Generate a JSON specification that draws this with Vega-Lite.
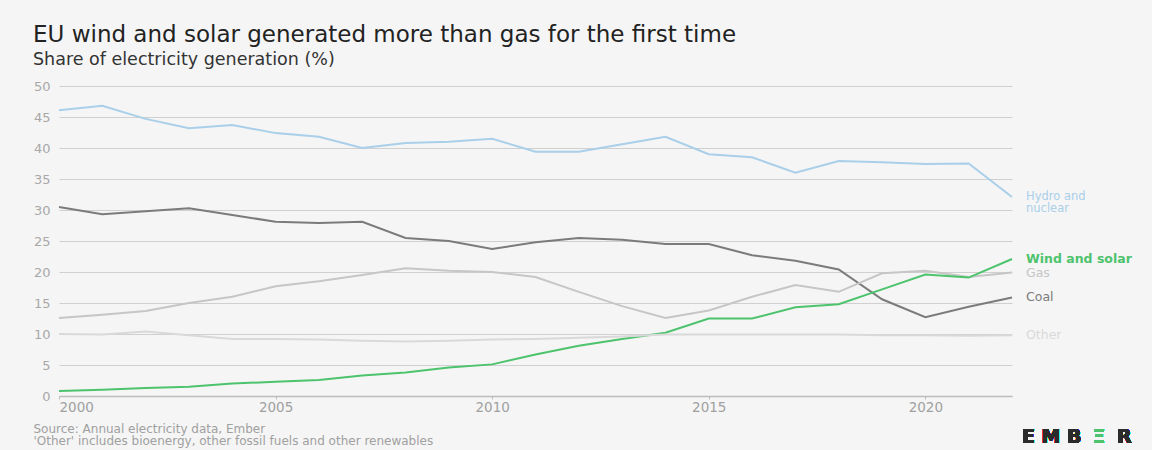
{
  "$schema": "https://vega.github.io/schema/vega-lite/v6.json",
  "autosize": "none",
  "width": 953,
  "height": 310,
  "padding": {"left": 59, "top": 86, "right": 140, "bottom": 54},
  "background": "#f5f5f5",
  "config": {
    "font": "DejaVu Sans",
    "view": {"stroke": null},
    "axis": {"labelFont": "DejaVu Sans", "titleFont": "DejaVu Sans"}
  },
  "title": {
    "text": "EU wind and solar generated more than gas for the first time",
    "subtitle": "Share of electricity generation (%)",
    "anchor": "start",
    "frame": "group",
    "dx": -26,
    "offset": 12,
    "fontSize": 23,
    "fontWeight": 500,
    "color": "#222222",
    "subtitleFontSize": 17.5,
    "subtitleColor": "#333333",
    "subtitlePadding": 4
  },
  "data": {
    "values": [
      {"year": 2000, "series": "Hydro and nuclear", "value": 46.1},
      {"year": 2001, "series": "Hydro and nuclear", "value": 46.8},
      {"year": 2002, "series": "Hydro and nuclear", "value": 44.7},
      {"year": 2003, "series": "Hydro and nuclear", "value": 43.2},
      {"year": 2004, "series": "Hydro and nuclear", "value": 43.7},
      {"year": 2005, "series": "Hydro and nuclear", "value": 42.4},
      {"year": 2006, "series": "Hydro and nuclear", "value": 41.8},
      {"year": 2007, "series": "Hydro and nuclear", "value": 40.0},
      {"year": 2008, "series": "Hydro and nuclear", "value": 40.8},
      {"year": 2009, "series": "Hydro and nuclear", "value": 41.0},
      {"year": 2010, "series": "Hydro and nuclear", "value": 41.5},
      {"year": 2011, "series": "Hydro and nuclear", "value": 39.4},
      {"year": 2012, "series": "Hydro and nuclear", "value": 39.4},
      {"year": 2013, "series": "Hydro and nuclear", "value": 40.6},
      {"year": 2014, "series": "Hydro and nuclear", "value": 41.8},
      {"year": 2015, "series": "Hydro and nuclear", "value": 39.0},
      {"year": 2016, "series": "Hydro and nuclear", "value": 38.5},
      {"year": 2017, "series": "Hydro and nuclear", "value": 36.0},
      {"year": 2018, "series": "Hydro and nuclear", "value": 37.9},
      {"year": 2019, "series": "Hydro and nuclear", "value": 37.7},
      {"year": 2020, "series": "Hydro and nuclear", "value": 37.4},
      {"year": 2021, "series": "Hydro and nuclear", "value": 37.5},
      {"year": 2022, "series": "Hydro and nuclear", "value": 32.1},
      {"year": 2000, "series": "Coal", "value": 30.5},
      {"year": 2001, "series": "Coal", "value": 29.3},
      {"year": 2002, "series": "Coal", "value": 29.8},
      {"year": 2003, "series": "Coal", "value": 30.3},
      {"year": 2004, "series": "Coal", "value": 29.2},
      {"year": 2005, "series": "Coal", "value": 28.1},
      {"year": 2006, "series": "Coal", "value": 27.9},
      {"year": 2007, "series": "Coal", "value": 28.1},
      {"year": 2008, "series": "Coal", "value": 25.5},
      {"year": 2009, "series": "Coal", "value": 25.0},
      {"year": 2010, "series": "Coal", "value": 23.7},
      {"year": 2011, "series": "Coal", "value": 24.8},
      {"year": 2012, "series": "Coal", "value": 25.5},
      {"year": 2013, "series": "Coal", "value": 25.2},
      {"year": 2014, "series": "Coal", "value": 24.5},
      {"year": 2015, "series": "Coal", "value": 24.5},
      {"year": 2016, "series": "Coal", "value": 22.7},
      {"year": 2017, "series": "Coal", "value": 21.8},
      {"year": 2018, "series": "Coal", "value": 20.4},
      {"year": 2019, "series": "Coal", "value": 15.6},
      {"year": 2020, "series": "Coal", "value": 12.7},
      {"year": 2021, "series": "Coal", "value": 14.4},
      {"year": 2022, "series": "Coal", "value": 15.9},
      {"year": 2000, "series": "Gas", "value": 12.6},
      {"year": 2001, "series": "Gas", "value": 13.1},
      {"year": 2002, "series": "Gas", "value": 13.7},
      {"year": 2003, "series": "Gas", "value": 15.0},
      {"year": 2004, "series": "Gas", "value": 16.0},
      {"year": 2005, "series": "Gas", "value": 17.7},
      {"year": 2006, "series": "Gas", "value": 18.5},
      {"year": 2007, "series": "Gas", "value": 19.5},
      {"year": 2008, "series": "Gas", "value": 20.6},
      {"year": 2009, "series": "Gas", "value": 20.2},
      {"year": 2010, "series": "Gas", "value": 20.0},
      {"year": 2011, "series": "Gas", "value": 19.2},
      {"year": 2012, "series": "Gas", "value": 16.8},
      {"year": 2013, "series": "Gas", "value": 14.5},
      {"year": 2014, "series": "Gas", "value": 12.6},
      {"year": 2015, "series": "Gas", "value": 13.8},
      {"year": 2016, "series": "Gas", "value": 16.0},
      {"year": 2017, "series": "Gas", "value": 17.9},
      {"year": 2018, "series": "Gas", "value": 16.8},
      {"year": 2019, "series": "Gas", "value": 19.8},
      {"year": 2020, "series": "Gas", "value": 20.2},
      {"year": 2021, "series": "Gas", "value": 19.2},
      {"year": 2022, "series": "Gas", "value": 19.9},
      {"year": 2000, "series": "Wind and solar", "value": 0.8},
      {"year": 2001, "series": "Wind and solar", "value": 1.0},
      {"year": 2002, "series": "Wind and solar", "value": 1.3},
      {"year": 2003, "series": "Wind and solar", "value": 1.5},
      {"year": 2004, "series": "Wind and solar", "value": 2.0},
      {"year": 2005, "series": "Wind and solar", "value": 2.3},
      {"year": 2006, "series": "Wind and solar", "value": 2.6},
      {"year": 2007, "series": "Wind and solar", "value": 3.3},
      {"year": 2008, "series": "Wind and solar", "value": 3.8},
      {"year": 2009, "series": "Wind and solar", "value": 4.6},
      {"year": 2010, "series": "Wind and solar", "value": 5.1},
      {"year": 2011, "series": "Wind and solar", "value": 6.7},
      {"year": 2012, "series": "Wind and solar", "value": 8.1},
      {"year": 2013, "series": "Wind and solar", "value": 9.2},
      {"year": 2014, "series": "Wind and solar", "value": 10.2},
      {"year": 2015, "series": "Wind and solar", "value": 12.5},
      {"year": 2016, "series": "Wind and solar", "value": 12.5},
      {"year": 2017, "series": "Wind and solar", "value": 14.3},
      {"year": 2018, "series": "Wind and solar", "value": 14.8},
      {"year": 2019, "series": "Wind and solar", "value": 17.2},
      {"year": 2020, "series": "Wind and solar", "value": 19.6},
      {"year": 2021, "series": "Wind and solar", "value": 19.1},
      {"year": 2022, "series": "Wind and solar", "value": 22.1},
      {"year": 2000, "series": "Other", "value": 10.0},
      {"year": 2001, "series": "Other", "value": 9.9},
      {"year": 2002, "series": "Other", "value": 10.4},
      {"year": 2003, "series": "Other", "value": 9.8},
      {"year": 2004, "series": "Other", "value": 9.2},
      {"year": 2005, "series": "Other", "value": 9.2},
      {"year": 2006, "series": "Other", "value": 9.1},
      {"year": 2007, "series": "Other", "value": 8.9},
      {"year": 2008, "series": "Other", "value": 8.8},
      {"year": 2009, "series": "Other", "value": 8.9},
      {"year": 2010, "series": "Other", "value": 9.1},
      {"year": 2011, "series": "Other", "value": 9.2},
      {"year": 2012, "series": "Other", "value": 9.4},
      {"year": 2013, "series": "Other", "value": 9.6},
      {"year": 2014, "series": "Other", "value": 9.9},
      {"year": 2015, "series": "Other", "value": 9.9},
      {"year": 2016, "series": "Other", "value": 9.9},
      {"year": 2017, "series": "Other", "value": 9.9},
      {"year": 2018, "series": "Other", "value": 9.9},
      {"year": 2019, "series": "Other", "value": 9.8},
      {"year": 2020, "series": "Other", "value": 9.8},
      {"year": 2021, "series": "Other", "value": 9.7},
      {"year": 2022, "series": "Other", "value": 9.8}
    ]
  },
  "encoding": {
    "x": {
      "field": "year",
      "type": "quantitative",
      "scale": {"domain": [2000, 2022], "nice": false, "zero": false},
      "axis": {
        "values": [2000, 2005, 2010, 2015, 2020],
        "format": "d",
        "grid": false,
        "domainColor": "#bdbdbd",
        "domainWidth": 1.5,
        "tickColor": "#bdbdbd",
        "tickSize": 3,
        "labelColor": "#a0a0a0",
        "labelFontSize": 13.5,
        "labelPadding": 1,
        "title": ["Source: Annual electricity data, Ember", "'Other' includes bioenergy, other fossil fuels and other renewables"],
        "titleAnchor": "start",
        "titleAlign": "left",
        "titleX": -26,
        "titleY": 27,
        "titleBaseline": "top",
        "titleFontSize": 12,
        "titleFontWeight": "normal",
        "titleColor": "#a0a0a0",
        "titleLineHeight": 12.5
      }
    },
    "y": {
      "field": "value",
      "type": "quantitative",
      "scale": {"domain": [0, 50], "nice": false},
      "axis": {
        "values": [0, 5, 10, 15, 20, 25, 30, 35, 40, 45, 50],
        "domain": false,
        "ticks": false,
        "gridColor": "#d0d0d0",
        "gridWidth": 1,
        "labelColor": "#a8a8a8",
        "labelFontSize": 13,
        "labelPadding": 9,
        "title": null
      }
    },
    "color": {
      "field": "series",
      "type": "nominal",
      "scale": {
        "domain": ["Hydro and nuclear", "Coal", "Gas", "Wind and solar", "Other"],
        "range": ["#a9cfe9", "#7b7b7b", "#c6c6c6", "#4dc36d", "#d9d9d9"]
      },
      "legend": null
    }
  },
  "layer": [
    {
      "mark": {"type": "line", "strokeWidth": 2},
      "encoding": {
        "order": {"field": "year"},
        "detail": {"field": "series"}
      }
    },
    {
      "transform": [{"filter": "datum.year == 2022 && datum.series != 'Hydro and nuclear' && datum.series != 'Wind and solar'"}],
      "mark": {"type": "text", "align": "left", "baseline": "middle", "dx": 14, "fontSize": 12.5},
      "encoding": {"text": {"field": "series"}}
    },
    {
      "transform": [{"filter": "datum.year == 2022 && datum.series == 'Wind and solar'"}],
      "mark": {"type": "text", "align": "left", "baseline": "middle", "dx": 14, "fontSize": 12.5, "fontWeight": "bold"},
      "encoding": {"text": {"field": "series"}}
    },
    {
      "transform": [{"filter": "datum.year == 2022 && datum.series == 'Hydro and nuclear'"}],
      "mark": {"type": "text", "align": "left", "baseline": "middle", "dx": 14, "fontSize": 11.5, "lineHeight": 12, "text": ["Hydro and", "nuclear"]},
      "encoding": {}
    },
    {
      "mark": {"type": "text", "align": "left", "baseline": "middle", "dx": 10, "dy": 41, "fontSize": 19, "fontWeight": "bold", "text": "E M B"},
      "encoding": {"x": {"datum": 2022}, "y": {"datum": 0}, "color": {"value": "#2b2b2b"}}
    },
    {
      "mark": {"type": "text", "align": "left", "baseline": "middle", "dx": 81, "dy": 41, "fontSize": 19, "fontWeight": "bold", "text": "Ξ"},
      "encoding": {"x": {"datum": 2022}, "y": {"datum": 0}, "color": {"value": "#4dc36d"}}
    },
    {
      "mark": {"type": "text", "align": "left", "baseline": "middle", "dx": 105, "dy": 41, "fontSize": 19, "fontWeight": "bold", "text": "R"},
      "encoding": {"x": {"datum": 2022}, "y": {"datum": 0}, "color": {"value": "#2b2b2b"}}
    }
  ]
}
